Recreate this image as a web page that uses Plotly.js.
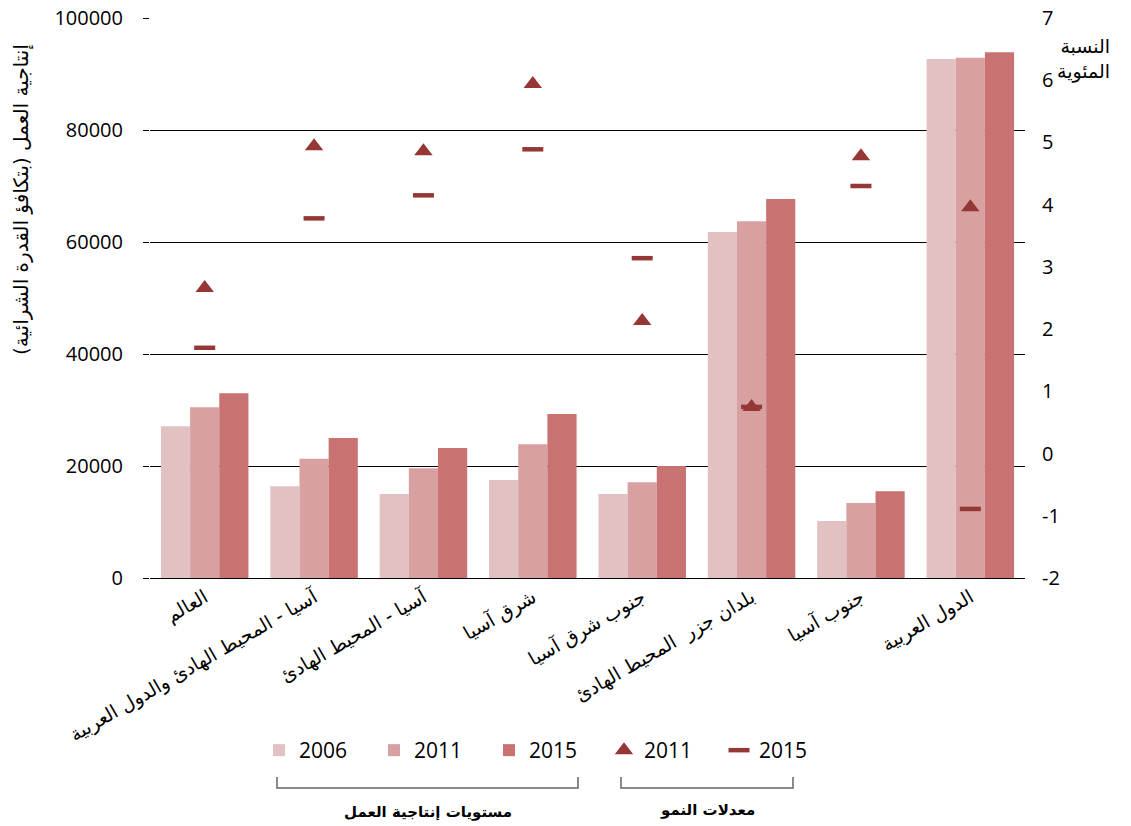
<!DOCTYPE html>
<html>
<head>
<meta charset="utf-8">
<script src="https://cdn.plot.ly/plotly-3.0.1.min.js"></script>
<style>body{margin:0;background:#fff;}#chart{width:1131px;height:826px;}</style>
</head>
<body>
<div id="chart"></div>
<script>
const categories = ['العالم', 'آسيا - المحيط الهادئ والدول العربية', 'آسيا - المحيط الهادئ', 'شرق آسيا', 'جنوب شرق آسيا', 'بلدان جزر  المحيط الهادئ', 'جنوب آسيا', 'الدول العربية'];
const prod2006 = [27100, 16400, 15000, 17500, 15000, 61800, 10200, 92700];
const prod2011 = [30500, 21300, 19600, 23900, 17100, 63700, 13400, 92900];
const prod2015 = [33000, 25000, 23200, 29300, 20000, 67700, 15500, 93900];
const growth2011 = [2.66, 4.94, 4.86, 5.94, 2.13, 0.75, 4.78, 3.96];
const growth2015 = [1.70, 3.78, 4.15, 4.89, 3.14, 0.75, 4.30, -0.89];
const seriesNames = ['2006', '2011', '2015', '2011', '2015'];
const rightTickVals = [-2, -1, 0, 1, 2, 3, 4, 5, 6, 7];
const rightTickText = ['-2', '-1', '0', '1', '2', '3', '4', '5', '6', '7'];

const numFont = {family: 'Open Sans, sans-serif', size: 20, color: '#000'};
const arFont = {family: 'DejaVu Sans, sans-serif', size: 19, color: '#000'};

const traces = [
  {type: 'bar', name: seriesNames[0], x: categories, y: prod2006, marker: {color: '#E2C1C3'}},
  {type: 'bar', name: seriesNames[1], x: categories, y: prod2011, marker: {color: '#D9A0A1'}},
  {type: 'bar', name: seriesNames[2], x: categories, y: prod2015, marker: {color: '#C87271'}},
  {type: 'scatter', mode: 'markers', name: seriesNames[3], x: categories, y: growth2011, yaxis: 'y2',
   marker: {symbol: 'triangle-up', size: 16, color: '#953735'}},
  {type: 'scatter', mode: 'markers', name: seriesNames[4], x: categories, y: growth2015, yaxis: 'y2',
   marker: {symbol: 'line-ew', size: 15, color: '#953735', line: {color: '#953735', width: 4.5}}}
];

function px2x(p){ return (p - 150) / 875; }
function px2y(p){ return (578 - p) / 560; }

const layout = {
  width: 1131, height: 826,
  margin: {l: 150, r: 106, t: 18, b: 248},
  paper_bgcolor: '#fff', plot_bgcolor: '#fff',
  barmode: 'group', bargap: 0.2, bargroupgap: 0,
  showlegend: true,
  legend: {orientation: 'h', x: px2x(259), xanchor: 'left', y: px2y(730), yanchor: 'top',
           font: {family: 'Open Sans, sans-serif', size: 21, color: '#000'},
           entrywidth: 70, entrywidthmode: 'pixels', traceorder: 'normal'},
  xaxis: {type: 'category', tickangle: -30, tickfont: arFont, showline: true, linecolor: '#000', linewidth: 1.3,
          ticks: '', showgrid: false, automargin: false},
  yaxis: {range: [0, 100000], dtick: 20000, tickformat: 'd', tickfont: numFont, showgrid: true, gridcolor: '#000', gridwidth: 1.4,
          ticks: 'outside', ticklen: 6, tickcolor: '#000', ticklabelstandoff: 16, zeroline: false, showline: false, automargin: false},
  yaxis2: {overlaying: 'y', side: 'right', range: [-2, 7], tickmode: 'array', tickvals: rightTickVals, ticktext: rightTickText,
           tickfont: numFont, showgrid: false,
           zeroline: false, ticks: '', ticklabelstandoff: 16, showline: false, automargin: false},
  shapes: [
    {type: 'path', xref: 'paper', yref: 'paper',
     path: `M${px2x(277)},${px2y(777)} L${px2x(277)},${px2y(788)} L${px2x(578)},${px2y(788)} L${px2x(578)},${px2y(777)}`,
     line: {color: '#666', width: 1.5}},
    {type: 'path', xref: 'paper', yref: 'paper',
     path: `M${px2x(621)},${px2y(777)} L${px2x(621)},${px2y(788)} L${px2x(793)},${px2y(788)} L${px2x(793)},${px2y(777)}`,
     line: {color: '#666', width: 1.5}}
  ],
  annotations: [
    {text: 'إنتاجية العمل (بتكافؤ القدرة الشرائية)', xref: 'paper', yref: 'paper', x: px2x(22), y: px2y(200),
     xanchor: 'center', yanchor: 'middle',
     textangle: -90, showarrow: false, font: {family: 'DejaVu Sans, sans-serif', size: 20, color: '#000'}},
    {text: 'النسبة<br>المئوية', xref: 'paper', yref: 'paper', x: px2x(1112), y: px2y(59), xanchor: 'right', yanchor: 'middle', align: 'right',
     showarrow: false, font: {family: 'DejaVu Sans, sans-serif', size: 19, color: '#000'}},
    {text: '<b>مستويات إنتاجية العمل</b>', xref: 'paper', yref: 'paper', x: px2x(428), y: px2y(812),
     xanchor: 'center', yanchor: 'middle',
     showarrow: false, font: {family: 'DejaVu Sans, sans-serif', size: 15, color: '#000'}},
    {text: '<b>معدلات النمو</b>', xref: 'paper', yref: 'paper', x: px2x(707), y: px2y(810),
     xanchor: 'center', yanchor: 'middle',
     showarrow: false, font: {family: 'DejaVu Sans, sans-serif', size: 15, color: '#000'}}
  ]
};

Plotly.newPlot('chart', traces, layout, {displayModeBar: false, responsive: false});
</script>
</body>
</html>
